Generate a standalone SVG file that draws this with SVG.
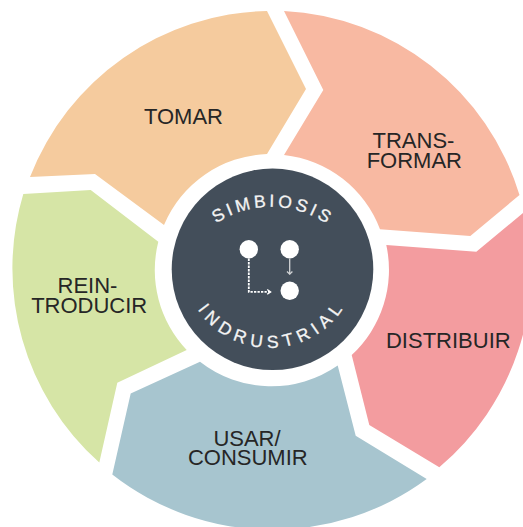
<svg xmlns="http://www.w3.org/2000/svg" width="523" height="527" viewBox="0 0 523 527">
  <style>
    .lbl { font-family: "Liberation Sans", Arial, sans-serif; font-size: 22px; fill: #262626; text-anchor: middle; }
    .arc { font-family: "Liberation Sans", Arial, sans-serif; font-size: 17.5px; fill: #f4f4f4; stroke: #f4f4f4; stroke-width: 0.3; text-anchor: middle; }
    .dot { fill: #ffffff; }
  </style>
  <defs>
    <path id="topArc" d="M 171.7 306.2 A 99.3 99.3 0 0 1 370.3 306.2"/>
    <path id="botArc" d="M 182.5 260.4 A 87.5 87.5 0 0 0 357.5 260.4"/>
    <marker id="chevW" markerUnits="userSpaceOnUse" markerWidth="8" markerHeight="8" viewBox="0 0 8 8" refX="5" refY="4" orient="auto" overflow="visible">
      <path d="M1.6,1.6 L5,4 L1.6,6.4" fill="none" stroke="#ffffff" stroke-width="1.4"/>
    </marker>
    <marker id="chevG" markerUnits="userSpaceOnUse" markerWidth="8" markerHeight="8" viewBox="0 0 8 8" refX="5" refY="4" orient="auto" overflow="visible">
      <path d="M2.3,1.3 L5,4 L2.3,6.7" fill="none" stroke="#d2d4d6" stroke-width="1.3"/>
    </marker>
  </defs>
  <rect width="523" height="527" fill="#ffffff"/>

  <g id="tomar">
    <path d="M 30,177 A 260 260 0 0 1 267,11 L 306,89 L 267,154 A 116 116 0 0 0 164,225 L 95,174 Z" fill="#F5CB9E"/>
    <text class="lbl" x="183.5" y="124">TOMAR</text>
  </g>
  <g id="transformar">
    <path d="M 284,11 A 260 260 0 0 1 519.5,195 L 470.3,236 L 380,229.3 A 116 116 0 0 0 284,155 L 323.3,90 Z" fill="#F8B9A2"/>
    <text class="lbl"><tspan x="413.5" y="147.7">TRANS-</tspan><tspan x="414.3" y="167.7">FORMAR</tspan></text>
  </g>
  <g id="distribuir">
    <path d="M 525,211.4 A 260 260 0 0 1 439.3,467.3 L 369.3,425 L 351.7,355 A 116 116 0 0 0 386.3,245 L 476.3,251.7 Z" fill="#F39C9F"/>
    <text class="lbl" x="448.3" y="348.3">DISTRIBUIR</text>
  </g>
  <g id="usar-consumir">
    <path d="M 426.7,479 A 260 260 0 0 1 112.3,474.5 L 130.7,393.5 L 200,361.7 A 116 116 0 0 0 337.7,365.5 L 355.7,435.7 Z" fill="#A7C5CF"/>
    <text class="lbl"><tspan x="247" y="445.7">USAR/</tspan><tspan x="247.8" y="465">CONSUMIR</tspan></text>
  </g>
  <g id="reintroducir">
    <path d="M 99.3,462.5 A 260 260 0 0 1 23.3,194 L 90.7,190 L 158.3,241.7 A 116 116 0 0 0 186.7,350 L 117.3,382.7 Z" fill="#D6E5A6"/>
    <text class="lbl"><tspan x="87.5" y="293.3">REIN-</tspan><tspan x="89.2" y="313.3">TRODUCIR</tspan></text>
  </g>

  <g id="simbiosis-industrial">
    <circle cx="272.5" cy="269.3" r="100.8" fill="#434E5A"/>
    <text class="arc" letter-spacing="3.4"><textPath href="#topArc" startOffset="157.7">SIMBIOSIS</textPath></text>
    <text class="arc" letter-spacing="5.4"><textPath href="#botArc" startOffset="140.1">INDRUSTRIAL</textPath></text>
    <g id="icon-node-a"><circle class="dot" cx="248.8" cy="249.2" r="9.2"/></g>
    <g id="icon-node-b"><circle class="dot" cx="289.7" cy="249.2" r="9.2"/></g>
    <g id="icon-node-c"><circle class="dot" cx="289.7" cy="290.7" r="9.2"/></g>
  </g>

  <g id="connectors" fill="none">
    <path d="M 248.8 258.6 V 291.9 H 270.6" stroke="#ffffff" stroke-width="1.8" stroke-dasharray="2.3 1.2" marker-end="url(#chevW)"/>
    <path d="M 289.7 258.6 V 274.2" stroke="#d2d4d6" stroke-width="1.3" marker-end="url(#chevG)"/>
  </g>
</svg>
